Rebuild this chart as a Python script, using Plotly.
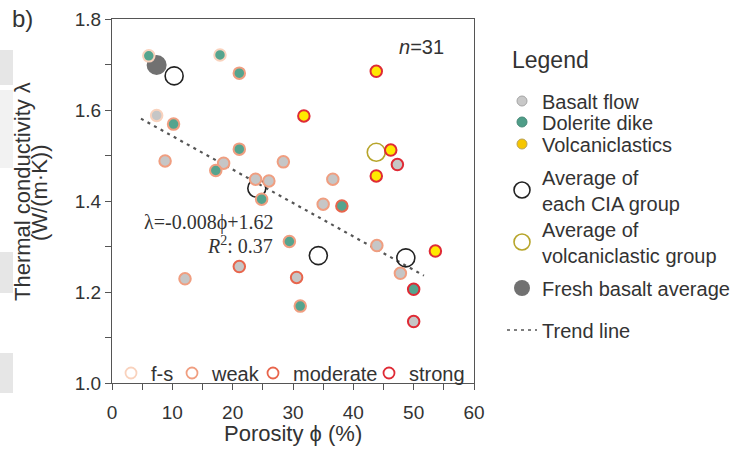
import plotly.graph_objects as go

# ---------------- data ----------------
basalt_x = [7.4, 8.8, 18.5, 28.4, 23.8, 26.0, 21.1, 12.1, 30.6, 35.0, 43.9, 47.8, 50.0, 47.3, 36.6]
basalt_y = [1.588, 1.488, 1.483, 1.486, 1.448, 1.444, 1.256, 1.229, 1.232, 1.393, 1.302, 1.241, 1.135, 1.480, 1.448]
basalt_w = ["f-s", "weak", "weak", "weak", "weak", "weak", "moderate", "weak", "moderate",
            "weak", "weak", "weak", "strong", "strong", "weak"]

dolerite_x = [6.1, 17.9, 21.1, 10.2, 21.1, 17.2, 24.8, 29.4, 31.2, 38.1, 50.0]
dolerite_y = [1.719, 1.721, 1.681, 1.569, 1.514, 1.467, 1.404, 1.311, 1.169, 1.389, 1.206]
dolerite_w = ["f-s", "f-s", "weak", "weak", "weak", "weak", "weak", "weak", "weak", "moderate", "strong"]

volc_x = [53.6, 43.8, 31.8, 46.2, 43.8]
volc_y = [1.290, 1.685, 1.587, 1.512, 1.455]
volc_w = ["strong", "strong", "strong", "strong", "strong"]

cia_avg_x = [10.3, 24.0, 34.2, 48.7]
cia_avg_y = [1.675, 1.428, 1.280, 1.275]

volc_avg_x = [43.8]
volc_avg_y = [1.507]

fresh_x = [7.4]
fresh_y = [1.699]

trend_x = [4.8, 51.7]
trend_y = [1.581, 1.236]

weathering_classes = ["f-s", "weak", "moderate", "strong"]

x_ticks = [0, 10, 20, 30, 40, 50, 60]
y_ticks = [1.0, 1.2, 1.4, 1.6, 1.8]

# ---------------- styles ----------------
edge_col = {"f-s": "#f9d2bd", "weak": "#f09e80", "moderate": "#e8654c", "strong": "#df2a35"}
GRAY = "#c6c6c6"
TEAL = "#55a48e"
YELLOW = "#ffe900"
TXT = "#333333"
AX = "#555555"
FONT = "Liberation Sans, Arial, sans-serif"

# plot area in pixels
L, R, T, B = 112, 474, 19, 383
W, H = 738, 456


def px(xp):
    return (xp - L) / (R - L)


def py(yp):
    return (B - yp) / (B - T)


fig = go.Figure()

# trend line
fig.add_trace(go.Scatter(x=trend_x, y=trend_y, mode="lines",
                         line=dict(color="#555555", width=2.2, dash="3px,4.5px"),
                         showlegend=False, hoverinfo="skip"))
# averages
fig.add_trace(go.Scatter(x=fresh_x, y=fresh_y, mode="markers",
                         marker=dict(size=20, color="#717171", line=dict(width=0)),
                         showlegend=False))
fig.add_trace(go.Scatter(x=cia_avg_x, y=cia_avg_y, mode="markers",
                         marker=dict(size=18, color="rgba(255,255,255,0)",
                                     line=dict(color="#222222", width=1.6)),
                         showlegend=False))
fig.add_trace(go.Scatter(x=volc_avg_x, y=volc_avg_y, mode="markers",
                         marker=dict(size=18, color="rgba(255,255,255,0)",
                                     line=dict(color="#b7a52b", width=1.6)),
                         showlegend=False))

# sample points
for xs, ys, ws, fill in [(basalt_x, basalt_y, basalt_w, GRAY),
                         (dolerite_x, dolerite_y, dolerite_w, TEAL),
                         (volc_x, volc_y, volc_w, YELLOW)]:
    fig.add_trace(go.Scatter(x=xs, y=ys, mode="markers",
                             marker=dict(size=11.5, color=fill,
                                         line=dict(color=[edge_col[w] for w in ws], width=2)),
                             showlegend=False))

# ---------------- legend entries (one legend per entry for exact placement) ----------------
leg_x = px(502)
entries = [
    ("Basalt flow", dict(mode="markers", marker=dict(size=10, color="#c8c8c8", line=dict(color="#a5a5a5", width=1))), 101),
    ("Dolerite dike", dict(mode="markers", marker=dict(size=10, color="#4f9d88", line=dict(color="#478a78", width=1))), 122),
    ("Volcaniclastics", dict(mode="markers", marker=dict(size=10, color="#f6c600", line=dict(color="#b9a25a", width=1))), 144),
    ("Average of<br>each CIA group", dict(mode="markers", marker=dict(size=16, color="white", line=dict(color="#222222", width=1.6))), 190),
    ("Average of<br>volcaniclastic group", dict(mode="markers", marker=dict(size=16, color="white", line=dict(color="#b7a52b", width=1.6))), 242),
    ("Fresh basalt average", dict(mode="markers", marker=dict(size=16, color="#717171")), 288),
    ("Trend line", dict(mode="lines", line=dict(color="#555555", width=1.6, dash="3px,4px")), 330),
]
legend_layouts = {}
for i, (name, kw, ypix) in enumerate(entries):
    lid = "legend" if i == 0 else f"legend{i + 1}"
    fig.add_trace(go.Scatter(x=[None], y=[None], name=name, legend=lid, showlegend=True, **kw))
    legend_layouts[lid] = dict(x=leg_x, y=py(ypix), xanchor="left", yanchor="middle",
                               bgcolor="rgba(0,0,0,0)", borderwidth=0, itemsizing="trace",
                               font=dict(family=FONT, size=20, color=TXT), itemclick=False,
                               itemdoubleclick=False)

# weathering legend at bottom of the plot
wx = {"f-s": 111, "weak": 172, "moderate": 253, "strong": 369}
for j, cls in enumerate(weathering_classes):
    lid = f"legend{len(entries) + j + 1}"
    fig.add_trace(go.Scatter(x=[None], y=[None], name=cls, legend=lid, showlegend=True, mode="markers",
                             marker=dict(size=11, color="white", line=dict(color=edge_col[cls], width=1.8))))
    legend_layouts[lid] = dict(x=px(wx[cls]), y=py(373), xanchor="left", yanchor="middle",
                               bgcolor="rgba(0,0,0,0)", borderwidth=0, itemsizing="trace",
                               font=dict(family=FONT, size=20, color=TXT), itemclick=False,
                               itemdoubleclick=False)

# ---------------- layout ----------------
axis_common = dict(showline=True, linecolor=AX, linewidth=1.3, mirror=True, ticks="outside",
                   ticklen=6, tickwidth=1.2, tickcolor=AX, showgrid=False, zeroline=False,
                   tickfont=dict(family=FONT, size=19, color=TXT))

fig.update_layout(
    width=W, height=H,
    margin=dict(l=L, r=W - R, t=T, b=H - B, autoexpand=False),
    paper_bgcolor="white", plot_bgcolor="white",
    showlegend=True,
    xaxis=dict(range=[0, 60], tickvals=x_ticks, ticktext=[str(v) for v in x_ticks],
               minor=dict(dtick=5, tick0=0, ticks="outside", ticklen=6, tickcolor=AX, tickwidth=1.2),
               ticklabelstandoff=6,
               **axis_common),
    yaxis=dict(range=[1.0, 1.8], tickvals=y_ticks, ticktext=[f"{v:.1f}" for v in y_ticks],
               minor=dict(dtick=0.1, tick0=1.0, ticks="outside", ticklen=6, tickcolor=AX, tickwidth=1.2),
               **axis_common),
    **legend_layouts,
)

# axis titles as annotations for exact placement
fig.add_annotation(text="Porosity ϕ (%)", xref="paper", yref="paper", x=px(293), y=py(433),
                   xanchor="center", yanchor="middle", showarrow=False,
                   font=dict(family=FONT, size=22, color=TXT))
fig.add_annotation(text="Thermal conductivity λ", xref="paper", yref="paper", x=px(22), y=py(192),
                   xanchor="center", yanchor="middle", textangle=-90, showarrow=False,
                   font=dict(family=FONT, size=22, color=TXT))
fig.add_annotation(text="(W/(m·K))", xref="paper", yref="paper", x=px(39), y=py(193),
                   xanchor="center", yanchor="middle", textangle=-90, showarrow=False,
                   font=dict(family=FONT, size=22, color=TXT))

# other annotations
fig.add_annotation(text="Legend", xref="paper", yref="paper", x=px(510), y=py(60),
                   xanchor="left", yanchor="middle", showarrow=False,
                   font=dict(family=FONT, size=23, color=TXT))
fig.add_annotation(text="<i>n</i>=31", xref="paper", yref="paper", x=px(397), y=py(47),
                   xanchor="left", yanchor="middle", showarrow=False,
                   font=dict(family=FONT, size=20, color=TXT))
fig.add_annotation(text="λ=-0.008ϕ+1.62", xref="paper", yref="paper", x=px(275), y=py(222),
                   xanchor="right", yanchor="middle", showarrow=False,
                   font=dict(family="Liberation Serif, Times New Roman, serif", size=20, color=TXT))
fig.add_annotation(text="<i>R</i><sup>2</sup>: 0.37", xref="paper", yref="paper", x=px(275), y=py(245),
                   xanchor="right", yanchor="middle", showarrow=False,
                   font=dict(family="Liberation Serif, Times New Roman, serif", size=20, color=TXT))
fig.add_annotation(text="b)", xref="paper", yref="paper", x=px(10), y=py(18),
                   xanchor="left", yanchor="middle", showarrow=False,
                   font=dict(family=FONT, size=24, color=TXT))

# faint grey background blocks on the left edge
for y0, y1, col in [(50, 85, "#e6e6e6"), (90, 168, "#f2f2f2"), (252, 293, "#e6e6e6"), (353, 393, "#e6e6e6")]:
    fig.add_shape(type="rect", xref="paper", yref="paper", x0=px(0), x1=px(13),
                  y0=py(y1), y1=py(y0), fillcolor=col, line=dict(width=0), layer="below")

fig.write_html("out.html", config={"displayModeBar": False},
               post_script="document.body.style.margin='0px';")
